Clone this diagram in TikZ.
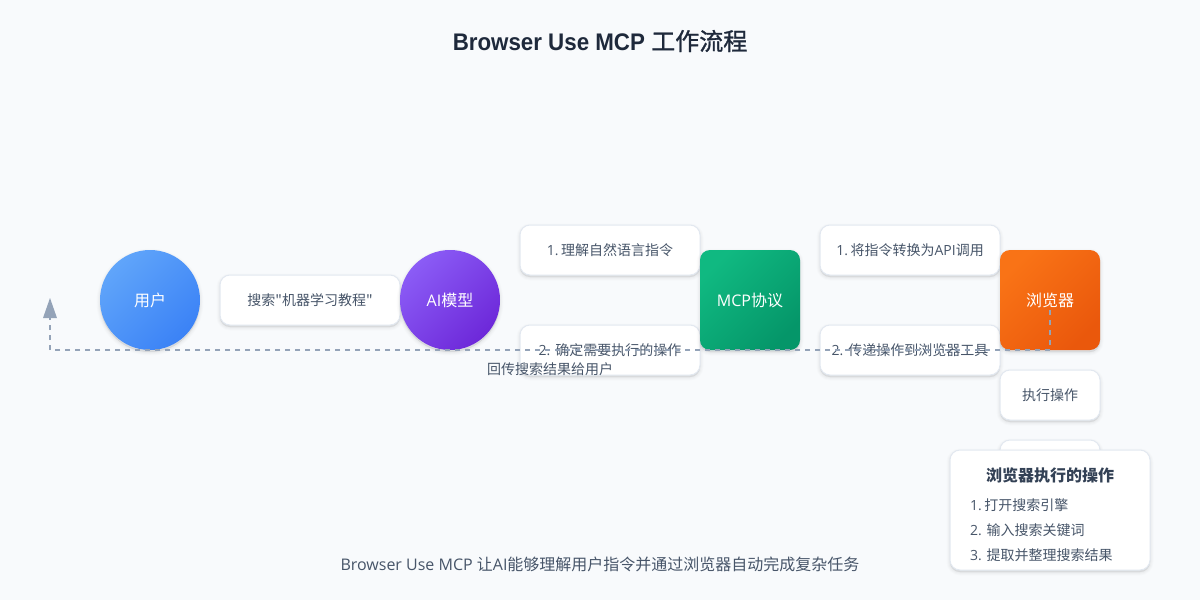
\documentclass[tikz,border=0pt]{standalone}
\usepackage{fontspec}
\setmainfont{Open Sans}
\newfontfamily\cjk{Noto Sans CJK SC}
\newfontfamily\titlefont[FakeStretch=.93]{Liberation Sans}
\newfontfamily\titlecjk[FakeBold=1.2]{Noto Sans CJK SC}
\usetikzlibrary{arrows.meta}
\definecolor{bgc}{HTML}{F8FAFC}
\definecolor{ink}{HTML}{475569}
\definecolor{dark}{HTML}{1E293B}
\definecolor{headc}{HTML}{334155}
\definecolor{edgec}{HTML}{E2E8F0}
\definecolor{dashc}{HTML}{94A3B8}
\definecolor{blueA}{HTML}{60A5FA}\definecolor{blueB}{HTML}{3B82F6}
\definecolor{purpA}{HTML}{8B5CF6}\definecolor{purpB}{HTML}{6D28D9}
\definecolor{greenA}{HTML}{10B981}\definecolor{greenB}{HTML}{059669}
\definecolor{oranA}{HTML}{F97316}\definecolor{oranB}{HTML}{EA580C}
\tikzset{
 softshadow/.style={
  preaction={draw=black,fill=black,draw opacity=.012,fill opacity=.012,line width=5.25pt,transform canvas={yshift=-1.5pt}},
  preaction={draw=black,fill=black,draw opacity=.016,fill opacity=.016,line width=3.75pt,transform canvas={yshift=-1.5pt}},
  preaction={draw=black,fill=black,draw opacity=.02,fill opacity=.02,line width=2.25pt,transform canvas={yshift=-1.5pt}},
  preaction={draw=black,fill=black,draw opacity=.025,fill opacity=.025,line width=.75pt,transform canvas={yshift=-1.5pt}}},
 card/.style={softshadow,draw=edgec,line width=.75pt,fill=white,rounded corners=7.5pt,inner sep=0pt,outer sep=0pt,
   text=ink,font=\fontsize{10.5pt}{12pt}\selectfont,align=center},
 grad/.style n args={2}{softshadow,shading=axis,left color=#1,right color=#2,shading angle=45,inner sep=0pt,outer sep=0pt,
   text=white,font=\fontsize{12pt}{14pt}\selectfont,align=center},
 disc/.style={circle,minimum size=75pt},
 tile/.style={rounded corners=7.5pt,minimum width=75pt,minimum height=75pt},
 plain/.style={inner sep=0pt,outer sep=0pt},
 flow/.style={draw=dashc,line width=1.5pt,dash pattern=on 3.75pt off 3.75pt}
}
\newcommand{\cardat}[5]{\node[card,minimum width=#3*.75pt,minimum height=#4*.75pt] (#5) at (#1,#2)}
\begin{document}
\begin{tikzpicture}[x=.75pt,y=-.75pt]
\useasboundingbox (0,0) rectangle (1200,600);
\fill[bgc] (0,0) rectangle (1200,600);
\node[plain,text=dark,font=\fontsize{18pt}{22pt}\selectfont] (title) at (600,41) {{\titlefont\bfseries Browser Use MCP} {\titlecjk 工作流程}};
\node[grad={blueA}{blueB},disc] (user) at (150,300) {\cjk 用户};
\cardat{310}{300}{180}{50}{c0} {\cjk 搜索"机器学习教程"};
\node[grad={purpA}{purpB},disc] (ai) at (450,300) {AI{\cjk 模型}};
\cardat{610}{250}{180}{50}{c1} {1.\kern-.8pt\ {\cjk 理解自然语言指令}};
\cardat{610}{350}{180}{50}{c2} {2. {\cjk 确定需要执行的操作}};
\node[grad={greenA}{greenB},tile] (mcp) at (750,300) {MCP{\cjk 协议}};
\cardat{910}{250}{180}{50}{c3} {1.\kern-.8pt\ {\cjk 将指令转换为}API{\cjk 调用}};
\cardat{910}{350}{180}{50}{c4} {2. {\cjk 传递操作到浏览器工具}};
\node[grad={oranA}{oranB},tile] (web) at (1050,300) {\cjk 浏览器};
\cardat{1050}{395}{100}{50}{c5} {\cjk 执行操作};
\cardat{1050}{465}{100}{50}{c6} {};
\node[card,minimum width=150pt,minimum height=90pt] (panel) at (1050,510) {};
\node[plain,text=headc,font=\fontsize{12pt}{14pt}\selectfont\bfseries\cjk] (ptitle) at (1050,475) {浏览器执行的操作};
\node[plain,text=ink,anchor=west,font=\fontsize{10.5pt}{12pt}\selectfont] (p1) at (970,505) {1.\kern-.8pt\ {\cjk 打开搜索引擎}};
\node[plain,text=ink,anchor=west,font=\fontsize{10.5pt}{12pt}\selectfont] (p2) at (970,530) {2. {\cjk 输入搜索关键词}};
\node[plain,text=ink,anchor=west,font=\fontsize{10.5pt}{12pt}\selectfont] (p3) at (970,555) {3. {\cjk 提取并整理搜索结果}};
\node[plain,text=ink,font=\fontsize{10.5pt}{12pt}\selectfont] (back) at (550,369) {\cjk 回传搜索结果给用户};
\node[plain,text=ink,font=\fontsize{12pt}{14pt}\selectfont] (foot) at (600,564) {Browser Use MCP {\cjk 让}AI{\cjk 能够理解用户指令并通过浏览器自动完成复杂任务}};
\coordinate (start) at (1050,310);
\coordinate (corner1) at (1050,350);
\coordinate (corner2) at (50,350);
\coordinate (tipbase) at (50,318);
\coordinate (tip) at (50,298);
\draw[flow] (start) -- (corner1) -- (corner2) -- (tipbase);
\fill[dashc] (tip) -- (57,318) -- (43,318) -- cycle;
\end{tikzpicture}
\end{document}
